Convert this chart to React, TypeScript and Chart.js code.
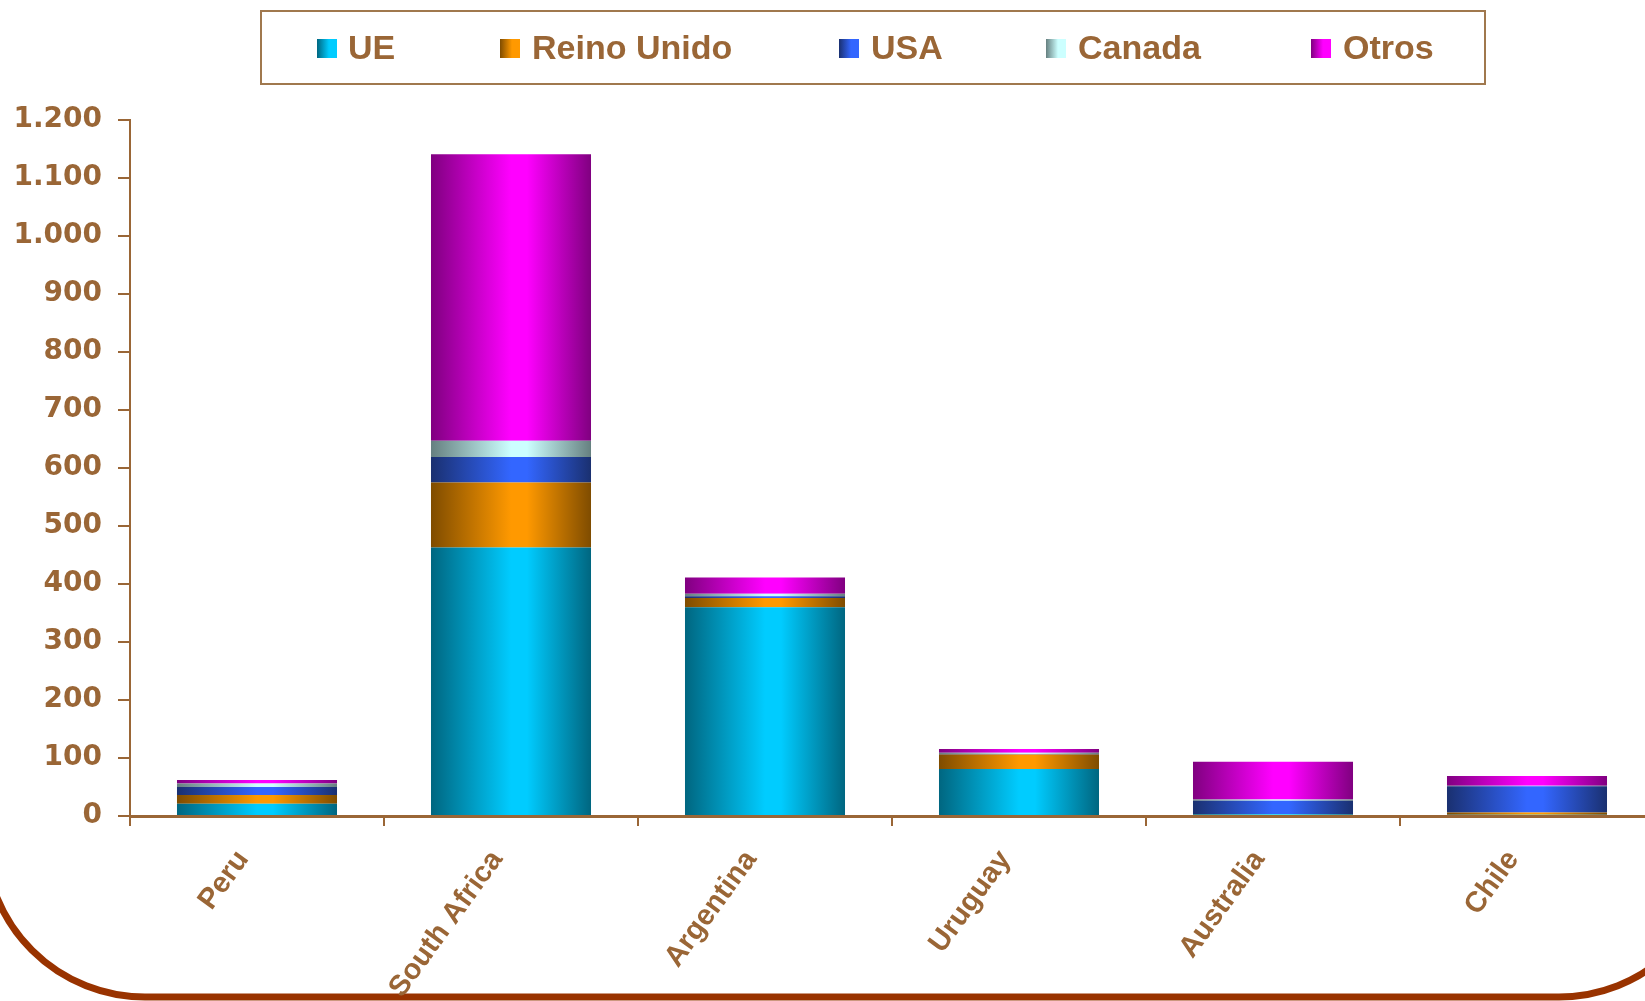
import React, { useEffect, useRef } from "react";
import { Chart, registerables } from "chart.js";

Chart.register(...registerables);

const categories = ["Peru", "South Africa", "Argentina", "Uruguay", "Australia", "Chile"];
const ueValues = [21, 463, 360, 81, 3, 2];
const reinoUnidoValues = [15, 112, 16, 25, 0.5, 4];
const usaValues = [14, 44, 3, 1, 23, 45.5];
const canadaValues = [6, 28, 4, 2, 2, 0.5];
const otrosValues = [6, 494, 28, 6.5, 65, 17];

const yTicks = [0, 100, 200, 300, 400, 500, 600, 700, 800, 900, 1000, 1100, 1200];

const seriesNames = ["UE", "Reino Unido", "USA", "Canada", "Otros"];
const brightColors = ["#00CCFF", "#FF9900", "#3366FF", "#CCFFFF", "#FF00FF"];
const darkColors = ["#006680", "#7F4C00", "#1A3070", "#668080", "#800080"];

const BROWN = "#9A6636";
const BAR_PCT = 0.63;

function fmt(v: number): string {
  const s = String(Math.round(v));
  return s.replace(/\B(?=(\d{3})+(?!\d))/g, ".");
}

function makeGradient(bright: string, dark: string) {
  return (ctx: any) => {
    const chart = ctx.chart;
    const xs = chart.scales && chart.scales.x;
    if (!chart.chartArea || !xs || ctx.dataIndex === undefined) return bright;
    const center = xs.getPixelForValue(ctx.dataIndex);
    const w = (xs.width / categories.length) * BAR_PCT;
    const g = chart.ctx.createLinearGradient(center - w / 2, 0, center + w / 2, 0);
    g.addColorStop(0, dark);
    g.addColorStop(0.5, bright);
    g.addColorStop(0.6, bright);
    g.addColorStop(1, dark);
    return g;
  };
}

const framePlugin = {
  id: "frame",
  beforeDraw(chart: any) {
    const c = chart.ctx;
    c.save();
    c.strokeStyle = "#993300";
    c.lineWidth = 7;
    c.beginPath();
    c.roundRect(-15, -600, 1734, 1597, 160);
    c.stroke();
    c.restore();
  },
};

export default function App() {
  const ref = useRef<HTMLCanvasElement>(null);

  useEffect(() => {
    if (!ref.current) return;
    const values = [ueValues, reinoUnidoValues, usaValues, canadaValues, otrosValues];
    const chart = new Chart(ref.current, {
      type: "bar",
      data: {
        labels: categories,
        datasets: seriesNames.map((name, i) => ({
          label: name,
          data: values[i],
          backgroundColor: makeGradient(brightColors[i], darkColors[i]) as any,
          borderWidth: 0,
          barPercentage: BAR_PCT,
          categoryPercentage: 1,
        })),
      },
      options: {
        animation: false,
        responsive: false,
        layout: { padding: { left: 0, right: 6, top: 120, bottom: 0 } },
        plugins: {
          legend: { display: false },
          tooltip: { enabled: false },
        },
        scales: {
          x: {
            stacked: true,
            grid: {
              drawOnChartArea: false,
              drawTicks: true,
              tickLength: 10,
              color: BROWN,
              lineWidth: 2,
            },
            border: { display: true, color: BROWN, width: 3 },
            ticks: {
              color: BROWN,
              font: { family: "'Liberation Sans', Arial, sans-serif", weight: "bold", size: 29 },
              maxRotation: 54,
              minRotation: 54,
              autoSkip: false,
              padding: 18,
              labelOffset: -14,
            },
            afterFit: (s: any) => {
              s.height = 185;
            },
          },
          y: {
            stacked: true,
            min: 0,
            max: 1200,
            afterBuildTicks: (s: any) => {
              s.ticks = yTicks.map((v) => ({ value: v }));
            },
            grid: {
              drawOnChartArea: false,
              drawTicks: true,
              tickLength: 12,
              color: BROWN,
              lineWidth: 2,
            },
            border: { display: true, color: BROWN, width: 2 },
            ticks: {
              color: BROWN,
              font: { family: "DejaVu Sans", weight: "bold", size: 28 },
              padding: 16,
              callback: (v: any) => fmt(Number(v)),
            },
            afterFit: (s: any) => {
              s.width = 130;
            },
          },
        },
      },
      plugins: [framePlugin],
    });
    return () => chart.destroy();
  }, []);

  const legendItems = [
    { sq: 317, tx: 348 },
    { sq: 500, tx: 532 },
    { sq: 839, tx: 871 },
    { sq: 1046, tx: 1078 },
    { sq: 1311, tx: 1343 },
  ];

  return (
    <div
      style={{
        position: "fixed",
        left: 0,
        top: 0,
        width: 1645,
        height: 1001,
        overflow: "hidden",
        background: "#ffffff",
      }}
    >
      <canvas
        ref={ref}
        width={1660}
        height={1001}
        style={{ position: "absolute", left: 0, top: 0, width: 1660, height: 1001 }}
      />
      <div
        style={{
          position: "absolute",
          left: 260,
          top: 10,
          width: 1222,
          height: 71,
          border: "2px solid #A0784E",
          background: "transparent",
        }}
      />
      {legendItems.map((it, i) => (
        <React.Fragment key={seriesNames[i]}>
          <div
            style={{
              position: "absolute",
              left: it.sq,
              top: 39,
              width: 20,
              height: 19,
              background: `linear-gradient(to right, ${darkColors[i]} 0%, ${brightColors[i]} 60%, ${brightColors[i]} 100%)`,
            }}
          />
          <div
            style={{
              position: "absolute",
              left: it.tx,
              top: 30,
              fontFamily: "'Liberation Sans', Arial, sans-serif",
              fontWeight: "bold",
              fontSize: 34,
              lineHeight: "34px",
              color: BROWN,
              whiteSpace: "nowrap",
            }}
          >
            {seriesNames[i]}
          </div>
        </React.Fragment>
      ))}
    </div>
  );
}
